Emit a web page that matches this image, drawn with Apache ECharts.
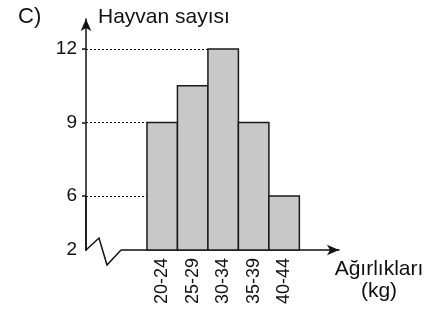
<!DOCTYPE html>
<html>
<head>
<meta charset="utf-8">
<script src="https://cdn.jsdelivr.net/npm/echarts@6/dist/echarts.min.js"></script>
<style>
	html, body {
		margin: 0;
		padding: 0;
		background: #fff;
	}
	#histogram {
		width: 434px;
		height: 312px;
	}
</style>
</head>
<body>
<div id="histogram"></div>
<script>
	// weight classes (kg) and number of animals in each
	var weightClasses = ['20-24', '25-29', '30-34', '35-39', '40-44'];
	var classLower = [20, 25, 30, 35, 40];
	var classUpper = [25, 30, 35, 40, 45];
	var animalCounts = [9, 10.5, 12, 9, 6];
	// labelled values on the vertical axis
	var yTickValues = [2, 6, 9, 12];
	var guideValues = [6, 9, 12];

	var xMin = 10, xMax = 51.5;
	var yMin = 2, yMax = 13.22;
	var font = '"Liberation Sans", Arial, sans-serif';

	var barData = [];
	for (var i = 0; i < weightClasses.length; i++) {
		barData.push([classLower[i], classUpper[i], animalCounts[i], i]);
	}

	// dotted guide from the y axis to the first bar that reaches the value
	var guideLines = [];
	for (var g = 0; g < guideValues.length; g++) {
		for (var j = 0; j < animalCounts.length; j++) {
			if (animalCounts[j] >= guideValues[g]) {
				guideLines.push([{coord: [xMin, guideValues[g]]}, {coord: [classLower[j], guideValues[g]]}]);
				break;
			}
		}
	}

	function renderBar(params, api) {
		var topLeft = api.coord([api.value(0), api.value(2)]);
		var bottomRight = api.coord([api.value(1), yMin]);
		return {
			type: 'rect',
			shape: {
				x: topLeft[0],
				y: topLeft[1],
				width: bottomRight[0] - topLeft[0],
				height: bottomRight[1] - topLeft[1]
			},
			style: {
				fill: '#c8c8c8',
				stroke: '#1a1a1a',
				lineWidth: 1.5
			}
		};
	}

	var chart = echarts.init(document.getElementById('histogram'));

	var option = {
		animation: false,
		title: {
			text: 'C)',
			left: 13,
			top: 1,
			textStyle: {
				fontFamily: font,
				fontSize: 22,
				fontWeight: 'normal',
				color: '#111'
			}
		},
		grid: {
			left: 86,
			right: 95,
			top: 19,
			bottom: 62
		},
		xAxis: {
			type: 'value',
			min: xMin,
			max: xMax,
			name: 'Ağırlıkları\n(kg)',
			nameLocation: 'end',
			nameGap: 40,
			nameTextStyle: {
				fontFamily: font,
				fontSize: 21,
				color: '#111',
				align: 'center',
				verticalAlign: 'top',
				lineHeight: 22,
				padding: [8, 0, 0, 0]
			},
			splitLine: {show: false},
			axisTick: {show: false},
			axisLine: {
				symbol: ['none', 'arrow'],
				symbolSize: [8, 12],
				lineStyle: {color: '#111', width: 1.5}
			},
			axisLabel: {
				customValues: [22.5, 27.5, 32.5, 37.5, 42.5],
				rotate: 90,
				margin: 8,
				fontFamily: font,
				fontSize: 18,
				color: '#111',
				formatter: function (value) {
					for (var k = 0; k < classLower.length; k++) {
						if (value > classLower[k] && value < classUpper[k]) {
							return weightClasses[k];
						}
					}
					return '';
				}
			}
		},
		yAxis: {
			type: 'value',
			min: yMin,
			max: yMax,
			breaks: [{start: 2.4, end: 4.4, gap: 0.2}],
			breakArea: {
				show: false,
				itemStyle: {opacity: 0, borderWidth: 0}
			},
			name: 'Hayvan sayısı',
			nameLocation: 'end',
			nameGap: 2,
			nameTextStyle: {
				fontFamily: font,
				fontSize: 21,
				color: '#111',
				align: 'left',
				verticalAlign: 'middle',
				padding: [0, 0, 0, 12]
			},
			splitLine: {show: false},
			axisLine: {
				show: true,
				breakLine: false,
				symbol: ['none', 'arrow'],
				symbolSize: [8, 12],
				lineStyle: {color: '#111', width: 1.5}
			},
			axisTick: {
				show: true,
				length: 4,
				customValues: guideValues,
				lineStyle: {color: '#111', width: 1.5}
			},
			axisLabel: {
				customValues: yTickValues,
				margin: 9,
				fontFamily: font,
				fontSize: 19,
				color: '#111'
			}
		},
		series: [{
			type: 'custom',
			renderItem: renderBar,
			encode: {x: [0, 1], y: 2},
			data: barData,
			markLine: {
				silent: true,
				symbol: 'none',
				label: {show: false},
				lineStyle: {color: '#111', type: [2, 2], width: 1},
				data: guideLines
			}
		}]
	};

	chart.setOption(option);

	// zigzag on the horizontal axis next to the origin,
	// and keep the vertical axis line whole across the scale break
	var origin = chart.convertToPixel({gridIndex: 0}, [xMin, yMin]);
	var sixPx = chart.convertToPixel({gridIndex: 0}, [xMin, guideValues[0]]);
	chart.setOption({
		graphic: [{
			type: 'line',
			z: 100,
			shape: {x1: origin[0] + 1, y1: origin[1], x2: origin[0] + 35, y2: origin[1]},
			style: {stroke: '#fff', lineWidth: 4}
		}, {
			type: 'line',
			z: 101,
			shape: {x1: origin[0], y1: origin[1], x2: sixPx[0], y2: sixPx[1]},
			style: {stroke: '#111', lineWidth: 1.5}
		}, {
			type: 'polyline',
			z: 101,
			shape: {
				points: [
					[origin[0], origin[1]],
					[origin[0] + 13, origin[1] - 12],
					[origin[0] + 21, origin[1] + 15],
					[origin[0] + 35, origin[1]]
				]
			},
			style: {stroke: '#111', lineWidth: 1.5, fill: null}
		}]
	});
</script>
</body>
</html>
